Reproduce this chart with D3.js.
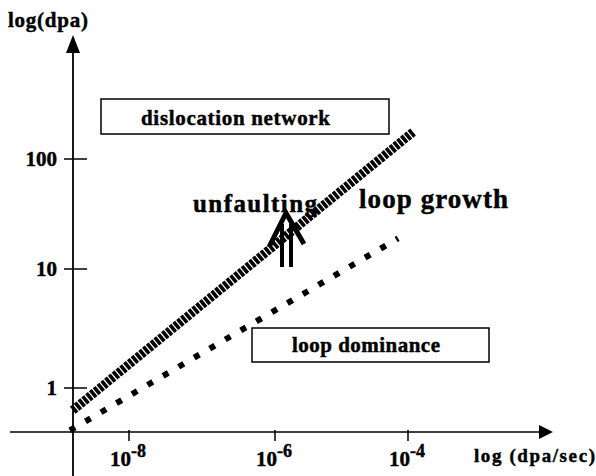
<!DOCTYPE html>
<html>
<head>
<meta charset="utf-8">
<script src="https://cdn.jsdelivr.net/npm/d3@7"></script>
<style>
  body { margin: 0; background: #fff; }
  svg text { font-family: "Liberation Serif", "DejaVu Serif", serif; font-weight: bold; fill: #000; stroke: #000; stroke-width: 0.45; }
</style>
</head>
<body>
<div id="chart"></div>
<script>
// dose rate ticks (dpa/sec) and dose ticks (dpa)
var xTicks = [1e-8, 1e-6, 1e-4];
var xTickExp = ["-8", "-6", "-4"];
var yTicks = [1, 10, 100];
var yTickLabels = ["1", "10", "100"];

// boundary lines, [dpa/sec, dpa]
var upperLine = [[1.7e-9, 0.65], [1.19e-4, 176]];
var lowerLine = [[1.55e-9, 0.44], [7.1e-5, 19]];

var width = 596, height = 476;

var svg = d3.select("#chart").append("svg")
    .attr("width", width)
    .attr("height", height);

// axes are hand drawn in the original, spacing is a bit uneven
var x = d3.scaleLog().domain([1e-8, 1e-6, 1e-4]).range([129, 275, 408]);
var y = d3.scaleLog().domain([1, 10, 100]).range([388, 269, 159]);

var x0 = 73, y0 = 432;

// axis lines with arrow heads
svg.append("line").attr("x1", 10).attr("x2", 545).attr("y1", y0).attr("y2", y0)
    .attr("stroke", "#000").attr("stroke-width", 1.6);
svg.append("path").attr("d", "M553," + y0 + "L539," + (y0 - 7) + "L539," + (y0 + 7) + "Z");

svg.append("line").attr("x1", x0).attr("x2", x0).attr("y1", height).attr("y2", 45)
    .attr("stroke", "#000").attr("stroke-width", 1.8);
svg.append("path").attr("d", "M" + x0 + ",35L" + (x0 - 7) + ",53L" + (x0 + 7) + ",53Z");

// y ticks
yTicks.forEach(function(t, i) {
    svg.append("line").attr("x1", x0 - 9).attr("x2", x0 + 14)
        .attr("y1", y(t)).attr("y2", y(t))
        .attr("stroke", "#000").attr("stroke-width", 1.5);
    svg.append("text").attr("x", 57).attr("y", y(t) + 7)
        .attr("text-anchor", "end").attr("font-size", 21)
        .text(yTickLabels[i]);
});

// x ticks
xTicks.forEach(function(t, i) {
    svg.append("line").attr("x1", x(t)).attr("x2", x(t))
        .attr("y1", y0 - 2).attr("y2", y0 + 9)
        .attr("stroke", "#000").attr("stroke-width", 1.5);
    var lab = svg.append("text").attr("x", x(t) - 19).attr("y", 466).attr("font-size", 21);
    lab.append("tspan").text("10");
    lab.append("tspan").attr("dy", -9).attr("font-size", 18).text(xTickExp[i]);
});

// axis titles
svg.append("text").attr("x", 8).attr("y", 27).attr("font-size", 21)
    .attr("textLength", 80).attr("lengthAdjust", "spacing").text("log(dpa)");
svg.append("text").attr("x", 474).attr("y", 462).attr("font-size", 19)
    .attr("textLength", 121).attr("lengthAdjust", "spacing").text("log (dpa/sec)");

// region boxes
svg.append("rect").attr("x", 101).attr("y", 99).attr("width", 288).attr("height", 35)
    .attr("fill", "none").attr("stroke", "#000").attr("stroke-width", 1.5);
svg.append("text").attr("x", 141).attr("y", 125).attr("font-size", 21)
    .attr("textLength", 189).attr("lengthAdjust", "spacing").text("dislocation network");

svg.append("rect").attr("x", 252).attr("y", 328).attr("width", 237).attr("height", 34)
    .attr("fill", "none").attr("stroke", "#000").attr("stroke-width", 1.5);
svg.append("text").attr("x", 292).attr("y", 352).attr("font-size", 21)
    .attr("textLength", 148).attr("lengthAdjust", "spacing").text("loop dominance");

var line = d3.line().x(function(d) { return x(d[0]); }).y(function(d) { return y(d[1]); });

// labels behind the hatched line
svg.append("text").attr("x", 193).attr("y", 212).attr("font-size", 25)
    .attr("textLength", 124).attr("lengthAdjust", "spacing").text("unfaulting");
svg.append("text").attr("x", 359).attr("y", 208).attr("font-size", 27)
    .attr("textLength", 149).attr("lengthAdjust", "spacing").text("loop growth");

svg.append("path").datum(upperLine).attr("d", line)
    .attr("fill", "none").attr("stroke", "#000")
    .attr("stroke-width", 9).attr("stroke-dasharray", "3.6,1.3");

svg.append("path").datum(lowerLine).attr("d", line)
    .attr("fill", "none").attr("stroke", "#000")
    .attr("stroke-width", 6).attr("stroke-dasharray", "6,12");

// double-shafted arrow (unfaulting)
var arrow = svg.append("g").attr("fill", "none").attr("stroke", "#000")
    .attr("stroke-linecap", "butt");
arrow.append("path").attr("d", "M269,247L286,213L304,244").attr("stroke-width", 5);
arrow.append("line").attr("x1", 282).attr("x2", 282).attr("y1", 224).attr("y2", 267).attr("stroke-width", 4);
arrow.append("line").attr("x1", 291).attr("x2", 291).attr("y1", 224).attr("y2", 267).attr("stroke-width", 4);
</script>
</body>
</html>
